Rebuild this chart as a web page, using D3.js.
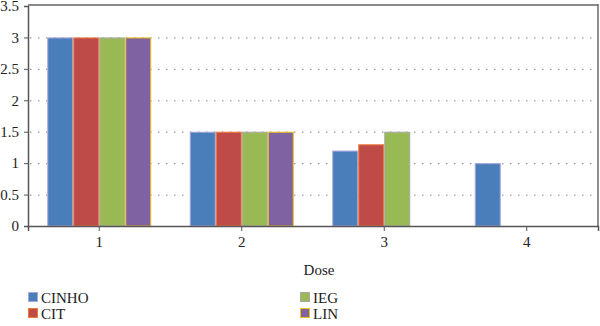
<!DOCTYPE html>
<html>
<head>
<meta charset="utf-8">
<script src="https://cdn.jsdelivr.net/npm/d3@7"></script>
<style>
  html, body { margin: 0; padding: 0; background: #fff; }
  svg { display: block; }
  svg text { font-family: "Liberation Serif", "Times New Roman", serif; }
</style>
</head>
<body>
<svg id="chart" width="600" height="326"></svg>
<script>
// Dose categories and one value list per series (null = no bar)
const doses = ["1", "2", "3", "4"];
const seriesNames = ["CINHO", "CIT", "IEG", "LIN"];
const cinho = [3.0, 1.5, 1.2, 1.0];
const cit   = [3.0, 1.5, 1.3, null];
const ieg   = [3.0, 1.5, 1.5, null];
const lin   = [3.0, 1.5, null, null];
const yTicks = [0, 0.5, 1, 1.5, 2, 2.5, 3, 3.5];

const seriesValues = [cinho, cit, ieg, lin];
const fills   = ["#4a7ebb", "#be4b48", "#98b954", "#7e62a1"];
const strokes = ["#a9a9d8", "#f07a3a", "#a8a8a8", "#f2c313"];
const fontSize = 15;

const svg = d3.select("#chart");
const plot = { left: 28, right: 598, top: 6, bottom: 226 };

const x = d3.scaleBand().domain(doses).range([plot.left, plot.right]).padding(0);
const groupPad = 19.25;
const x1 = d3.scaleBand().domain(seriesNames)
  .range([groupPad, x.bandwidth() - groupPad]).padding(0);
const y = d3.scaleLinear().domain([0, 3.5]).range([plot.bottom, plot.top]);

// dotted horizontal gridlines
svg.append("g").selectAll("line")
  .data(yTicks.filter(t => t > 0 && t < 3.5))
  .join("line")
  .attr("x1", plot.left + 2).attr("x2", plot.right)
  .attr("y1", d => y(d) + 0.5).attr("y2", d => y(d) + 0.5)
  .attr("stroke", "#9a9a9a").attr("stroke-width", 1.3)
  .attr("stroke-dasharray", "1.5,6.5");

// top and right frame
svg.append("line").attr("x1", plot.left).attr("x2", plot.right)
  .attr("y1", plot.top - 1).attr("y2", plot.top - 1)
  .attr("stroke", "#8a8a8a").attr("stroke-width", 2);
svg.append("line").attr("x1", plot.right).attr("x2", plot.right)
  .attr("y1", plot.top - 2).attr("y2", plot.bottom)
  .attr("stroke", "#6a6a6a").attr("stroke-width", 1.5);

// bars
const bars = [];
doses.forEach((d, i) => {
  seriesNames.forEach((s, j) => {
    const v = seriesValues[j][i];
    if (v != null) bars.push({ dose: d, series: s, idx: j, value: v });
  });
});
svg.append("g").selectAll("rect")
  .data(bars)
  .join("rect")
  .attr("x", d => x(d.dose) + x1(d.series) + 0.5)
  .attr("y", d => y(d.value) + 0.5)
  .attr("width", x1.bandwidth() - 1)
  .attr("height", d => y(0) - y(d.value) - 0.5)
  .attr("fill", d => fills[d.idx])
  .attr("stroke", d => strokes[d.idx])
  .attr("stroke-width", 1);

// y axis
const yAxis = svg.append("g")
  .attr("transform", `translate(${plot.left},0)`)
  .call(d3.axisLeft(y).tickValues(yTicks).tickSize(4).tickPadding(5)
    .tickFormat(d => String(d)));
yAxis.attr("font-size", fontSize);
yAxis.select(".domain").attr("stroke", "#555").attr("stroke-width", 1.5);
yAxis.selectAll(".tick line").attr("stroke", "#555");
yAxis.selectAll("text").attr("fill", "#222");

// x axis
const xAxis = svg.append("g")
  .attr("transform", `translate(0,${plot.bottom})`)
  .call(d3.axisBottom(x).tickSize(5).tickPadding(5));
xAxis.attr("font-size", fontSize);
xAxis.select(".domain").attr("stroke", "#555").attr("stroke-width", 1.5);
xAxis.selectAll(".tick line").attr("stroke", "#555");
xAxis.selectAll("text").attr("fill", "#222");

// axis title
svg.append("text")
  .attr("x", 319).attr("y", 275)
  .attr("text-anchor", "middle")
  .attr("font-size", fontSize)
  .attr("fill", "#222")
  .text("Dose");

// legend in two columns
const legendPos = [[28, 298], [28, 314], [300, 298], [300, 314]];
const legend = svg.append("g").selectAll("g")
  .data(seriesNames)
  .join("g")
  .attr("transform", (d, i) => `translate(${legendPos[i][0]},${legendPos[i][1]})`);
legend.append("rect")
  .attr("x", 0.5).attr("y", -5.5).attr("width", 9).attr("height", 9)
  .attr("fill", (d, i) => fills[i])
  .attr("stroke", (d, i) => strokes[i]);
legend.append("text")
  .attr("x", 13).attr("y", 5)
  .attr("font-size", fontSize)
  .attr("fill", "#222")
  .text(d => d);
</script>
</body>
</html>
